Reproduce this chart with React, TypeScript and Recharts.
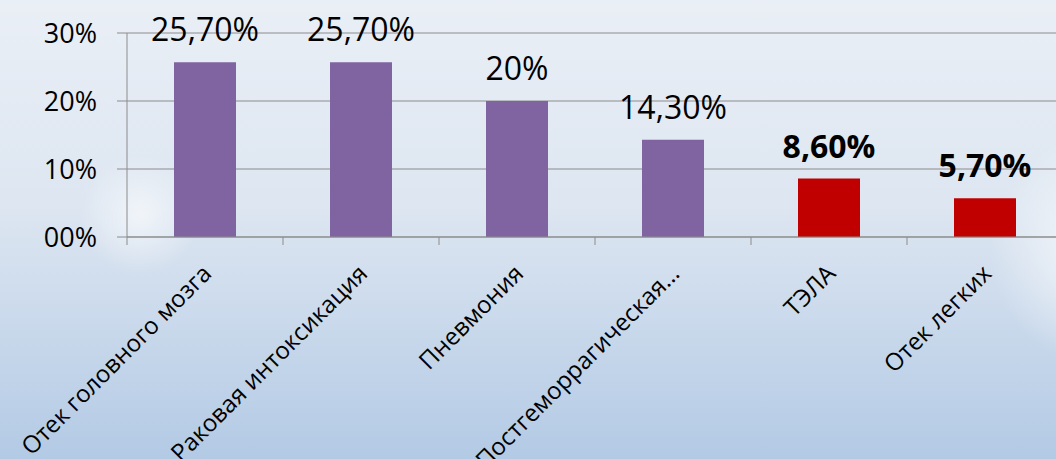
import { Bar, BarChart, CartesianGrid, Cell, LabelList, XAxis, YAxis } from "recharts";

const categories = [
  "Отек головного мозга",
  "Раковая интоксикация",
  "Пневмония",
  "Постгеморрагическая…",
  "ТЭЛА",
  "Отек легких",
];
const shares = [0.257, 0.257, 0.2, 0.143, 0.086, 0.057];
const valueLabels = ["25,70%", "25,70%", "20%", "14,30%", "8,60%", "5,70%"];
const emphasized = [false, false, false, false, true, true];
const yTicks = [0, 0.1, 0.2, 0.3];
const yTickLabels = ["00%", "10%", "20%", "30%"];

const data = categories.map((name, i) => ({
  name,
  value: shares[i],
  label: valueLabels[i],
  strong: emphasized[i],
}));

const PURPLE = "#8064a2";
const RED = "#c00000";
const AXIS = "#8c8c8c";
const FONT = "'Open Sans', sans-serif";
const HALF_BAND = 78;

function CategoryTick(props: any) {
  const { x, y, payload } = props;
  return (
    <g transform={`translate(${x},${y})`}>
      <line x1={-HALF_BAND} y1={0} x2={-HALF_BAND} y2={8} stroke={AXIS} />
      <text
        x={0}
        y={0}
        transform="translate(8,38) rotate(-45)"
        textAnchor="end"
        fontSize={24}
        fontFamily={FONT}
        fill="#000"
      >
        {payload.value}
      </text>
    </g>
  );
}

function ValueLabel(props: any) {
  const { x, y, width, index } = props;
  const row = data[index];
  return (
    <text
      x={x + width / 2}
      y={y - 21}
      textAnchor="middle"
      fontSize={32}
      fontWeight={row.strong ? 700 : 400}
      fontFamily={FONT}
      fill="#000"
    >
      {row.label}
    </text>
  );
}

export default function App() {
  return (
    <div
      style={{
        position: "fixed",
        left: 0,
        top: 0,
        width: 1056,
        height: 459,
        overflow: "hidden",
        background:
          "radial-gradient(circle at 1110px 250px, rgba(255,255,255,0.85) 0, rgba(255,255,255,0) 120px), radial-gradient(circle at 140px 215px, rgba(255,255,255,0.6) 0, rgba(255,255,255,0) 60px), linear-gradient(180deg, #eaeff6 0%, #dde6f1 45%, #b3cae5 100%)",
      }}
    >
      <BarChart
        width={1080}
        height={459}
        data={data}
        margin={{ top: 33, right: 17, left: 0, bottom: 0 }}
        barSize={62}
      >
        <CartesianGrid vertical={false} stroke={AXIS} />
        <XAxis
          dataKey="name"
          interval={0}
          axisLine={{ stroke: AXIS }}
          tickLine={false}
          tickSize={0}
          tickMargin={0}
          height={222}
          tick={<CategoryTick />}
        />
        <YAxis
          width={127}
          domain={[0, 0.3]}
          ticks={yTicks}
          interval={0}
          axisLine={{ stroke: AXIS }}
          tickLine={{ stroke: AXIS }}
          tickSize={10}
          tickMargin={20}
          tick={{ fontSize: 27, fontFamily: FONT, fill: "#000" }}
          tickFormatter={(v: number) => yTickLabels[yTicks.indexOf(v)]}
        />
        <Bar dataKey="value" isAnimationActive={false}>
          {data.map((d, i) => (
            <Cell key={i} fill={d.strong ? RED : PURPLE} />
          ))}
          <LabelList dataKey="label" content={<ValueLabel />} />
        </Bar>
      </BarChart>
    </div>
  );
}
